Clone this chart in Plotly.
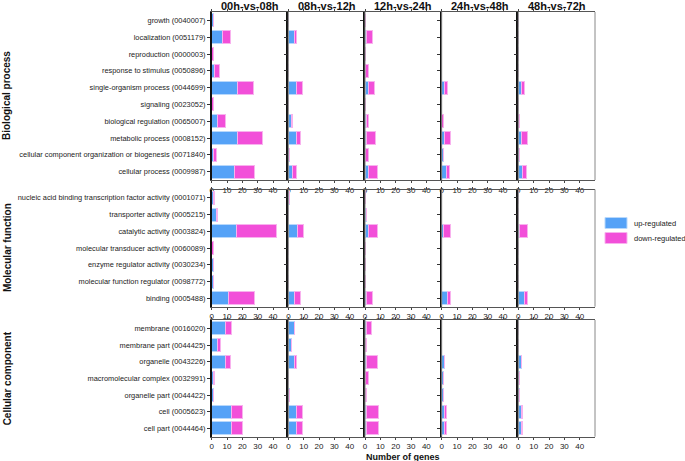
import plotly.graph_objects as go

W, H = 685, 461

comparisons = ["00h-vs-08h", "08h-vs-12h", "12h-vs-24h", "24h-vs-48h", "48h-vs-72h"]
groups = ["Biological process", "Molecular function", "Cellular component"]

bp_terms = ["growth (0040007)", "localization (0051179)", "reproduction (0000003)",
            "response to stimulus (0050896)", "single-organism process (0044699)",
            "signaling (0023052)", "biological regulation (0065007)",
            "metabolic process (0008152)",
            "cellular component organization or biogenesis (0071840)",
            "cellular process (0009987)"]
bp_up = {
    "00h-vs-08h": [1, 7, 0, 2, 17, 0, 4, 17, 1, 15],
    "08h-vs-12h": [0, 4, 0, 0, 5, 0, 2, 5, 1, 3],
    "12h-vs-24h": [0, 1, 0, 0, 2, 0, 1, 1, 0, 2],
    "24h-vs-48h": [0, 0, 0, 0, 2, 0, 0, 2, 1, 3],
    "48h-vs-72h": [0, 0, 0, 0, 2, 0, 0, 2, 1, 3],
}
bp_down = {
    "00h-vs-08h": [0, 5, 1, 3, 10, 1, 5, 16, 2, 13],
    "08h-vs-12h": [0, 1, 0, 0, 4, 0, 1, 3, 0, 2],
    "12h-vs-24h": [0, 4, 0, 2, 4, 0, 1, 6, 2, 6],
    "24h-vs-48h": [0, 0, 0, 0, 2, 0, 1, 4, 0, 2],
    "48h-vs-72h": [0, 0, 0, 0, 2, 0, 1, 4, 0, 2],
}

mf_terms = ["nucleic acid binding transcription factor activity (0001071)",
            "transporter activity (0005215)", "catalytic activity (0003824)",
            "molecular transducer activity (0060089)",
            "enzyme regulator activity (0030234)",
            "molecular function regulator (0098772)", "binding (0005488)"]
mf_up = {
    "00h-vs-08h": [1, 3, 16, 0, 1, 1, 11],
    "08h-vs-12h": [1, 0, 6, 0, 0, 0, 4],
    "12h-vs-24h": [0, 1, 2, 0, 0, 0, 1],
    "24h-vs-48h": [0, 0, 1, 0, 0, 0, 4],
    "48h-vs-72h": [0, 0, 1, 0, 0, 0, 4],
}
mf_down = {
    "00h-vs-08h": [1, 1, 26, 1, 0, 0, 17],
    "08h-vs-12h": [0, 0, 4, 0, 0, 0, 4],
    "12h-vs-24h": [0, 0, 6, 0, 0, 0, 4],
    "24h-vs-48h": [0, 0, 5, 0, 0, 0, 2],
    "48h-vs-72h": [0, 0, 5, 0, 0, 0, 2],
}

cc_terms = ["membrane (0016020)", "membrane part (0044425)", "organelle (0043226)",
            "macromolecular complex (0032991)", "organelle part (0044422)",
            "cell (0005623)", "cell part (0044464)"]
cc_up = {
    "00h-vs-08h": [9, 4, 9, 1, 1, 13, 13],
    "08h-vs-12h": [4, 2, 4, 0, 1, 5, 5],
    "12h-vs-24h": [1, 0, 1, 0, 0, 1, 1],
    "24h-vs-48h": [0, 0, 2, 1, 1, 2, 2],
    "48h-vs-72h": [0, 0, 2, 1, 1, 2, 2],
}
cc_down = {
    "00h-vs-08h": [4, 2, 3, 1, 0, 7, 7],
    "08h-vs-12h": [0, 0, 1, 0, 0, 4, 4],
    "12h-vs-24h": [3, 1, 7, 2, 1, 8, 8],
    "24h-vs-48h": [0, 0, 0, 0, 0, 1, 1],
    "48h-vs-72h": [0, 0, 0, 0, 0, 1, 1],
}

x_ticks = [0, 10, 20, 30, 40]
series_names = ["up-regulated", "down-regulated"]

UP_COLOR, UP_EDGE = "#55a2f7", "#b8d8fb"
DN_COLOR, DN_EDGE = "#f24fd9", "#f8b2ee"
FONT = "Liberation Sans, Arial, sans-serif"

group_data = [(bp_terms, bp_up, bp_down), (mf_terms, mf_up, mf_down), (cc_terms, cc_up, cc_down)]


def px(x):
    return x / W


def py(y):
    return 1 - y / H


# layout geometry in window pixels
col_left0, col_w = 211.7, 76.66
row_px = [(12, 180), (189.5, 306.7), (320, 436.7)]

fig = go.Figure()
layout = dict(
    width=W, height=H, margin=dict(l=0, r=0, t=0, b=0, autoexpand=False),
    paper_bgcolor="white", plot_bgcolor="white",
    barmode="stack", bargap=0.22, showlegend=False,
    font=dict(family=FONT, size=8, color="#222"),
)
shapes, annotations = [], []

for r, (terms, up, down) in enumerate(group_data):
    y0p, y1p = row_px[r]
    for c, comp in enumerate(comparisons):
        idx = r * 5 + c + 1
        xa, ya = f"x{idx}" if idx > 1 else "x", f"y{idx}" if idx > 1 else "y"
        fig.add_trace(go.Bar(y=terms, x=up[comp], orientation="h", name=series_names[0],
                             marker=dict(color=UP_COLOR, line=dict(color=UP_EDGE, width=1)),
                             xaxis=xa, yaxis=ya))
        fig.add_trace(go.Bar(y=terms, x=down[comp], orientation="h", name=series_names[1],
                             marker=dict(color=DN_COLOR, line=dict(color=DN_EDGE, width=1)),
                             xaxis=xa, yaxis=ya))
        left = col_left0 + c * col_w
        right = left + col_w
        xkey = "xaxis" if idx == 1 else f"xaxis{idx}"
        ykey = "yaxis" if idx == 1 else f"yaxis{idx}"
        layout[xkey] = dict(
            domain=[px(left), px(right)], anchor=ya, range=[0, 50], automargin=False,
            tickvals=x_ticks, ticks="outside", ticklen=2, tickcolor="#444",
            showline=True, linecolor="#555", linewidth=1, mirror="ticks",
            showgrid=False, zeroline=False,
            tickfont=dict(family=FONT, size=8, color="#222"),
        )
        layout[ykey] = dict(
            domain=[py(y1p), py(y0p)], anchor=xa, automargin=False,
            type="category", categoryorder="array", categoryarray=terms,
            autorange="reversed",
            ticks="outside", ticklen=3, tickcolor="#333",
            showline=True, linecolor="#111", linewidth=1.5,
            showgrid=False, zeroline=False, showticklabels=(c == 0),
            tickfont=dict(family=FONT, size=7.4, color="#222"),
        )
        shapes.append(dict(type="line", xref=f"{xa} domain", yref=f"{ya} domain",
                           x0=1, x1=1, y0=0, y1=1, line=dict(color="#888", width=1)))
    annotations.append(dict(text=f"<b>{groups[r]}</b>", xref="paper", yref="paper",
                            x=px(7), y=py((y0p + y1p) / 2), textangle=-90,
                            xanchor="center", yanchor="middle",
                            showarrow=False, font=dict(family=FONT, size=10, color="#111")))

for c, comp in enumerate(comparisons):
    annotations.append(dict(text=f"<b>{comp}</b>", xref="paper", yref="paper",
                            x=px(col_left0 + (c + 0.5) * col_w), y=py(6),
                            xanchor="center", yanchor="middle",
                            showarrow=False, font=dict(family=FONT, size=11, color="#111")))

annotations.append(dict(text="<b>Number of genes</b>", xref="paper", yref="paper",
                        x=px(col_left0 + 2.5 * col_w), y=py(456.5), showarrow=False,
                        xanchor="center", yanchor="middle",
                        font=dict(family=FONT, size=9, color="#111")))

# legend
for i, (name, colr, edge) in enumerate([(series_names[0], UP_COLOR, UP_EDGE),
                                        (series_names[1], DN_COLOR, DN_EDGE)]):
    ty = 217.5 + i * 15
    shapes.append(dict(type="rect", xref="paper", yref="paper",
                       x0=px(605), x1=px(627), y0=py(ty + 11), y1=py(ty),
                       fillcolor=colr, line=dict(color=edge, width=1)))
    annotations.append(dict(text=name, xref="paper", yref="paper", x=px(632),
                            y=py(ty + 5.5), xanchor="left", yanchor="middle",
                            showarrow=False,
                            font=dict(family=FONT, size=7.5, color="#222")))

layout["shapes"] = shapes
layout["annotations"] = annotations
fig.update_layout(**layout)
# remove the default 8px page margin so the 685x461 figure fills the window
fig.write_html("out.html", config={"displayModeBar": False},
               post_script="document.body.style.margin='0px';")
